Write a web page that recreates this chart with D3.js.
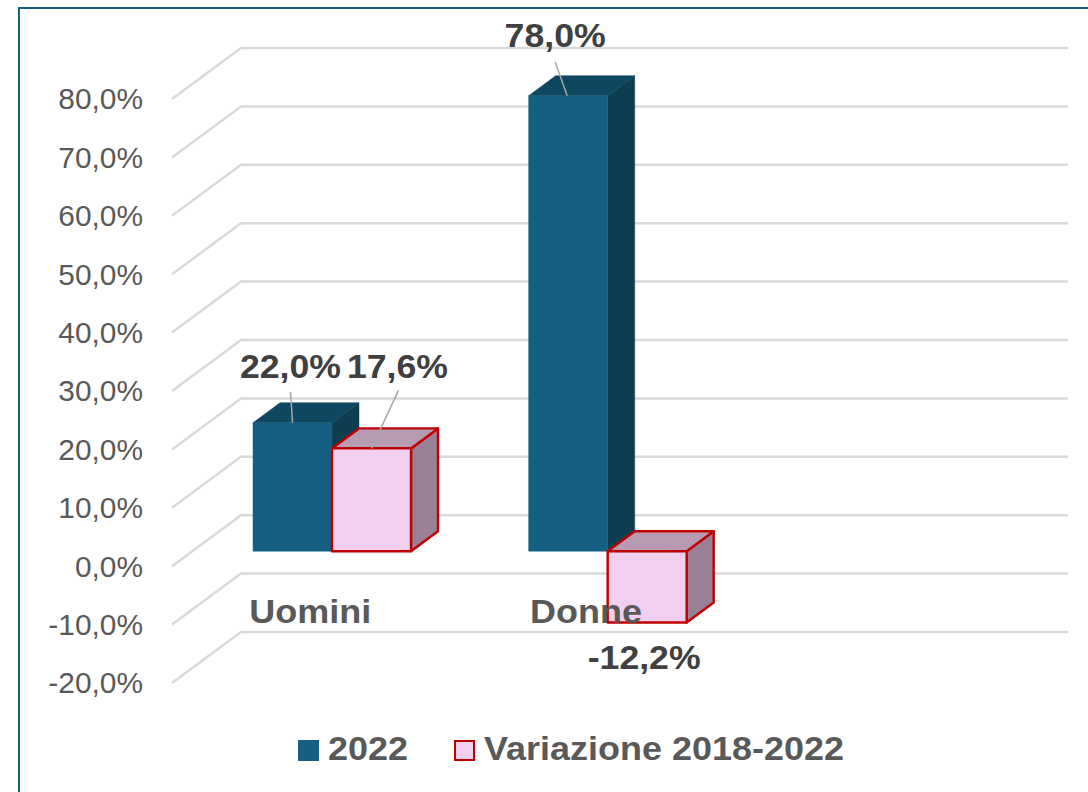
<!DOCTYPE html>
<html>
<head>
<meta charset="utf-8">
<script src="https://cdn.jsdelivr.net/npm/d3@7"></script>
<style>
  html, body { margin: 0; padding: 0; background: #fff; }
  svg { display: block; }
  text { font-family: "Liberation Sans", Arial, sans-serif; }
</style>
</head>
<body>
<div id="chart"></div>
<script>
const categories = ["Uomini", "Donne", ""];
const seriesNames = ["2022", "Variazione 2018-2022"];
const values2022 = [22.0, 78.0, null];
const valuesVariazione = [17.6, -12.2, null];
const yTicks = [-20, -10, 0, 10, 20, 30, 40, 50, 60, 70, 80];

const width = 1088;
const height = 792;

// oblique 3D offsets: back wall vs front edge, and the depth of one bar
const wallDx = 69, wallDy = 51;
const barDx = 27, barDy = 20;
const insetDy = 16;

const fmt = v => v.toFixed(1).replace(".", ",") + "%";

// the reference text is a little wider than the font, stretch it to fit
function stretch(sel, k) {
  sel.each(function () {
    const len = this.getComputedTextLength();
    d3.select(this)
      .attr("textLength", len * k)
      .attr("lengthAdjust", "spacingAndGlyphs");
  });
}

const svg = d3.select("#chart")
  .append("svg")
  .attr("width", width)
  .attr("height", height);

// outer frame runs off the right and bottom of the crop
svg.append("path")
  .attr("d", `M19,${height}V8H${width}`)
  .attr("fill", "none")
  .attr("stroke", "#156082")
  .attr("stroke-width", 2);

// y is the back wall position of a value
const y = d3.scaleLinear().domain([-20, 80]).range([632, 48]);
const x = d3.scaleBand().domain(categories).range([172, 999]);
const xSeries = d3.scaleBand().domain(seriesNames).range([81, 239]);

const backLeft = 172 + wallDx, backRight = 1068;

svg.append("g").selectAll("path")
  .data(yTicks)
  .enter()
  .append("path")
  .attr("d", d => `M172,${y(d) + wallDy}L${backLeft},${y(d)}H${backRight}`)
  .attr("fill", "none")
  .attr("stroke", "#d9d9d9")
  .attr("stroke-width", 2.5);

svg.append("g").selectAll("text")
  .data(yTicks)
  .enter()
  .append("text")
  .attr("x", 143)
  .attr("y", d => y(d) + wallDy)
  .attr("dy", "0.36em")
  .attr("text-anchor", "end")
  .attr("font-size", 29)
  .attr("fill", "#595959")
  .text(fmt)
  .call(stretch, 1.03);

const styles = {
  "2022": { front: "#156082", top: "#0f4761", side: "#0c3d50", stroke: null },
  "Variazione 2018-2022": { front: "#f2ceef", top: "#b79bb3", side: "#9a8096", stroke: "#c00000" }
};

const bars = [];
categories.forEach((c, i) => {
  if (values2022[i] !== null) bars.push({ cat: c, series: seriesNames[0], value: values2022[i] });
  if (valuesVariazione[i] !== null) bars.push({ cat: c, series: seriesNames[1], value: valuesVariazione[i] });
});

svg.append("g").selectAll("g")
  .data(bars)
  .enter()
  .append("g")
  .each(function (d) {
    const st = styles[d.series];
    const x0 = x(d.cat) + xSeries(d.series);
    const x1 = x0 + xSeries.bandwidth();
    const yTop = y(Math.max(d.value, 0)) + insetDy + barDy;
    const yBot = y(Math.min(d.value, 0)) + insetDy + barDy;
    const faces = [
      { pts: [[x1, yTop], [x1 + barDx, yTop - barDy], [x1 + barDx, yBot - barDy], [x1, yBot]], fill: st.side },
      { pts: [[x0, yTop], [x0 + barDx, yTop - barDy], [x1 + barDx, yTop - barDy], [x1, yTop]], fill: st.top },
      { pts: [[x0, yTop], [x1, yTop], [x1, yBot], [x0, yBot]], fill: st.front }
    ];
    d3.select(this).selectAll("polygon")
      .data(faces)
      .enter()
      .append("polygon")
      .attr("points", f => f.pts.join(" "))
      .attr("fill", f => f.fill)
      .attr("stroke", f => st.stroke || f.fill)
      .attr("stroke-width", st.stroke ? 2.4 : 0.5)
      .attr("stroke-linejoin", "round");
  });

// category names sit on top of the bars, "Donne" overlaps the pink box
svg.append("g").selectAll("text")
  .data(categories.filter(c => c))
  .enter()
  .append("text")
  .attr("x", d => x(d) + x.bandwidth() / 2 + 0.5)
  .attr("y", 623)
  .attr("text-anchor", "middle")
  .attr("font-size", 33)
  .attr("font-weight", 700)
  .attr("fill", "#595959")
  .text(d => d)
  .call(stretch, 1.09);

// label placement relative to the top-centre of each bar's front face
const labelOffsets = [
  { dx: -2, dy: -45, leader: [[-2, -31], [0, 0]] },
  { dx: 26, dy: -70, leader: [[27, -58], [0, 0]] },
  { dx: -13, dy: -49, leader: [[-13, -34], [-1, 0]] },
  { dx: -3, dy: 47, leader: null }
];

const labels = svg.append("g");
bars.forEach((d, i) => {
  const off = labelOffsets[i];
  const cx = x(d.cat) + xSeries(d.series) + xSeries.bandwidth() / 2;
  const yEdge = y(d.value) + insetDy + barDy;
  if (off.leader) {
    labels.append("line")
      .attr("x1", cx + off.leader[0][0])
      .attr("y1", yEdge + off.leader[0][1])
      .attr("x2", cx + off.leader[1][0])
      .attr("y2", yEdge + off.leader[1][1])
      .attr("stroke", "#a6a6a6")
      .attr("stroke-width", 1.5);
  }
  labels.append("text")
    .attr("x", cx + off.dx)
    .attr("y", yEdge + off.dy)
    .attr("text-anchor", "middle")
    .attr("font-size", 33)
    .attr("font-weight", 700)
    .attr("fill", "#404040")
    .text(fmt(d.value))
    .call(stretch, 1.08);
});

// legend
const legendX = d3.scaleOrdinal().domain(seriesNames).range([298, 454]);
const legend = svg.append("g").selectAll("g")
  .data(seriesNames)
  .enter()
  .append("g")
  .attr("transform", d => `translate(${legendX(d)},740)`);

legend.append("rect")
  .attr("x", d => styles[d].stroke ? 1 : 0)
  .attr("y", d => styles[d].stroke ? 1 : 0)
  .attr("width", d => styles[d].stroke ? 19 : 21)
  .attr("height", d => styles[d].stroke ? 19 : 21)
  .attr("fill", d => styles[d].front)
  .attr("stroke", d => styles[d].stroke)
  .attr("stroke-width", 2);

legend.append("text")
  .attr("x", 30)
  .attr("y", 20)
  .attr("font-size", 33)
  .attr("font-weight", 700)
  .attr("fill", "#595959")
  .text(d => d)
  .call(stretch, 1.09);
</script>
</body>
</html>
